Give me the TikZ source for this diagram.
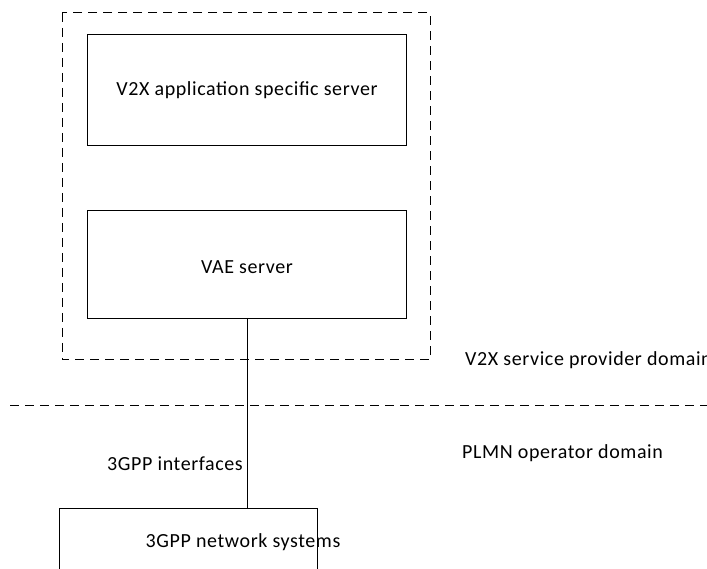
\documentclass[tikz,border=0pt]{standalone}
\usepackage{fontspec}
\setmainfont{Carlito}[LetterSpace=3]
\begin{document}
\begin{tikzpicture}[x=1pt,y=-1pt,
  box/.style={draw,line width=1pt},
  dsh/.style={draw,line width=1pt,dash pattern=on 9pt off 6pt},
  lbl/.style={font=\fontsize{20}{24}\selectfont,inner sep=0pt}]
\useasboundingbox (0,0) rectangle (707,569);
\clip (0,0) rectangle (707,569);
\draw[dsh] (62,13) rectangle (430,360);
\node[box,minimum width=319pt,minimum height=111pt,anchor=north west,inner sep=0pt] (app) at (87,34) {};
\node[lbl] at (247,90) {V2X application specific server};
\node[box,minimum width=319pt,minimum height=108pt,anchor=north west,inner sep=0pt] (vae) at (87,210) {};
\node[lbl] at (247,267) {VAE server};
\node[box,minimum width=258pt,minimum height=80pt,anchor=north west,inner sep=0pt] (net) at (59,508) {};
\node[lbl] at (243,542) {3GPP network systems};
\coordinate (vaeb) at (247,318);
\draw[line width=1pt] (vaeb) -- (vaeb |- net.north);
\coordinate (dl) at (10,405);
\coordinate (dr) at (712,405);
\draw[dsh] (dl) -- (dr);
\node[lbl,anchor=west] (sp) at (465,360) {V2X service provider domain};
\node[lbl,anchor=west] (pl) at (462,453) {PLMN operator domain};
\node[lbl,anchor=east] (gi) at (243,464) {3GPP interfaces};
\end{tikzpicture}
\end{document}
